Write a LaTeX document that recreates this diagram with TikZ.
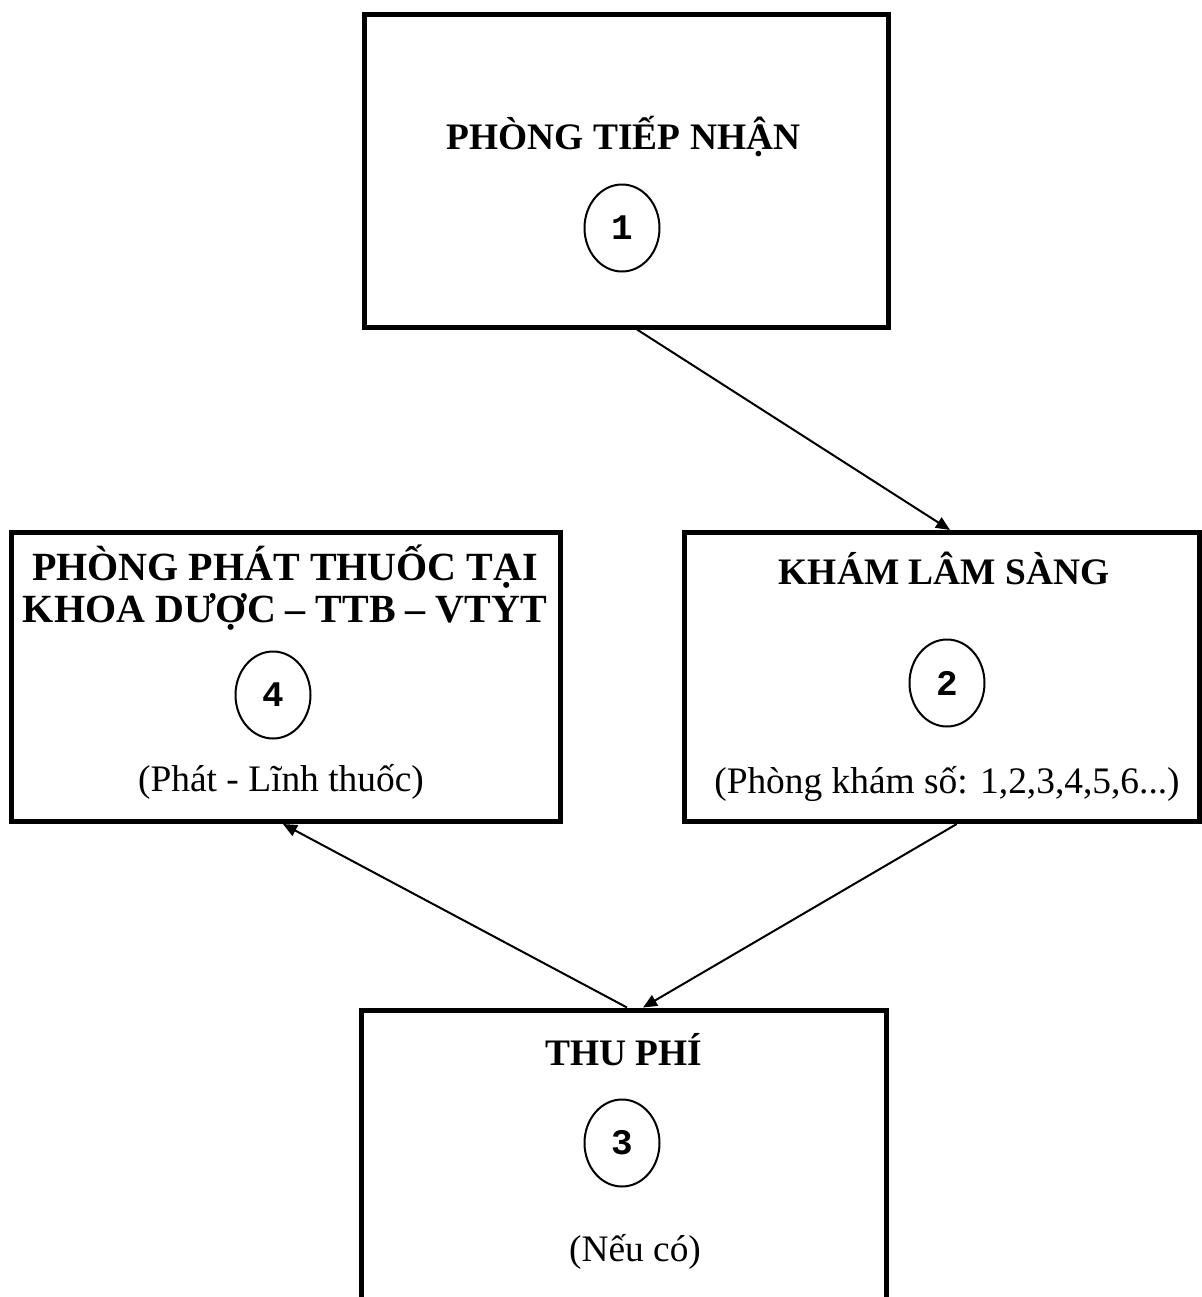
\documentclass[tikz,border=0pt]{standalone}
\usepackage{fontspec}
\setmainfont{Liberation Serif}
\newfontfamily\digitfont{Liberation Mono}
\usetikzlibrary{shapes.geometric,arrows.meta,calc}
\tikzset{
  box/.style={draw, line width=2.5pt, inner sep=0pt},
  ttl/.style={font=\fontsize{18.7}{21}\selectfont\bfseries, align=center, inner sep=0pt},
  sub/.style={font=\fontsize{18.7}{21}\selectfont, inner sep=0pt},
  num/.style={draw, ellipse, line width=1pt, minimum width=37.5pt, minimum height=43.5pt, inner sep=0pt, font=\digitfont\bfseries\fontsize{18}{20}\selectfont},
  conn/.style={line width=1pt, -{Triangle[length=7pt,width=6pt]}}
}
\begin{document}
\begin{tikzpicture}[x=0.5pt,y=-0.5pt]
\useasboundingbox (0,0) rectangle (1202,1297);
\clip (0,0) rectangle (1202,1297);
% boxes
\node[box, minimum width=262pt, minimum height=156.25pt] (b1) at (626.5,170.75) {};
\node[box, minimum width=257.25pt, minimum height=144.5pt] (b2) at (941.75,677) {};
\node[box, minimum width=274.25pt, minimum height=144.5pt] (b4) at (285.75,677) {};
\node[box, minimum width=262.5pt, minimum height=195pt] (b3) at (623.5,1205) {};
% box 1
\node[ttl] (t1) at (623.5,137) {PHÒNG TIẾP NHẬN};
\node[num] (n1) at (622,228) {1};
% box 2
\node[ttl] (t2) at (944,568) {KHÁM LÂM SÀNG};
\node[num] (n2) at (947,683) {2};
\node[sub] (s2) at (947,784) {(Phòng khám số: 1,2,3,4,5,6...)};
% box 4
\node[ttl, font=\fontsize{20}{21}\selectfont\bfseries] (t4) at (285,588) {PHÒNG PHÁT THUỐC TẠI\\KHOA DƯỢC – TTB – VTYT};
\node[num] (n4) at (273,695) {4};
\node[sub] (s4) at (281,782) {(Phát - Lĩnh thuốc)};
% box 3
\node[ttl] (t3) at (624,1050) {THU PHÍ};
\node[num] (n3) at (622,1143) {3};
\node[sub] (s3) at (635,1252) {(Nếu có)};
% connectors
\draw[conn] ($(b1.south)+(10.5,0)$) -- ($(b2.north)+(8.25,0)$);
\draw[conn] ($(b2.south)+(15,0)$) -- ($(b3.north)+(19.5,0)$);
\draw[conn] ($(b3.north)+(3.5,0)$) -- ($(b4.south)+(-2.75,0)$);
\end{tikzpicture}
\end{document}
